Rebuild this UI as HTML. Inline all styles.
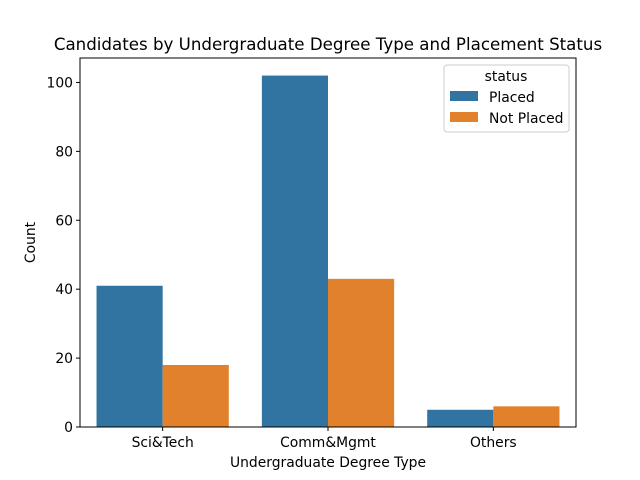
<!DOCTYPE html>
<html><head><meta charset="utf-8"><style>
body{margin:0;background:#fff;}
svg{display:block;font-family:"DejaVu Sans","Liberation Sans",sans-serif;}
</style></head><body>
<svg id="chart" width="640" height="480">
<rect width="640" height="480" fill="#fff"/>
<text x="328" y="50" text-anchor="middle" font-size="16.67">Candidates by Undergraduate Degree Type and Placement Status</text>
<g id="bars"></g>
<g id="axes"></g>
<text x="328" y="467" text-anchor="middle" font-size="13.89">Undergraduate Degree Type</text>
<text transform="translate(35,242.5) rotate(-90)" text-anchor="middle" font-size="13.89">Count</text>
<g>
<rect x="444" y="65" width="125" height="67" rx="3" fill="#fff" fill-opacity="0.8" stroke="#ccc"/>
<text x="506" y="81" text-anchor="middle" font-size="13.89">status</text>
<rect x="450" y="91" width="28" height="10" fill="#3274a1"/>
<text x="489" y="102" font-size="13.89">Placed</text>
<rect x="450" y="112" width="28" height="10" fill="#e1812c"/>
<text x="489" y="123" font-size="13.89">Not Placed</text>
</g>
</svg>
<script>
const categories = ["Sci&Tech","Comm&Mgmt","Others"];
const placed = [41,102,5];
const notPlaced = [18,43,6];
const yTicks = [0,20,40,60,80,100];
const seriesNames = ["Placed","Not Placed"];

const L=80,R=576,T=58,B=427,YMAX=107.1;
const NS="http://www.w3.org/2000/svg";
const band=(R-L)/categories.length;
const x=i=>L+band*(i+0.5);
const y=v=>B-(v/YMAX)*(B-T);
const bars=document.getElementById('bars');
const axes=document.getElementById('axes');
function mk(tag,attrs,parent){const e=document.createElementNS(NS,tag);for(const k in attrs)e.setAttribute(k,attrs[k]);parent.appendChild(e);return e;}
const series=[placed,notPlaced];const colors=["#3274a1","#e1812c"];
const bw=band*0.4;
series.forEach((s,si)=>{s.forEach((v,i)=>{
  const r=mk('rect',{x:x(i)-bw+si*bw,y:y(v),width:bw,height:B-y(v),fill:colors[si]},bars);
  
  
});});
const frame=mk('rect',{x:L,y:T,width:R-L,height:B-T,fill:'none',stroke:'#000','stroke-width':1},axes);


yTicks.forEach(t=>{
  const yy=y(t);
  const tk=mk('line',{x1:L-4,x2:L,y1:yy,y2:yy,stroke:'#000'},axes);
  
  
  const tx=mk('text',{x:L-7,y:yy+5,'text-anchor':'end','font-size':13.89},axes);
  tx.textContent=t;
  
  
});
categories.forEach((c,i)=>{
  const tk=mk('line',{x1:x(i),x2:x(i),y1:B,y2:B+4,stroke:'#000'},axes);
  
  
  const tx=mk('text',{x:x(i),y:B+20,'text-anchor':'middle','font-size':13.89},axes);
  tx.textContent=c;
  
  
});
</script>
</body></html>
